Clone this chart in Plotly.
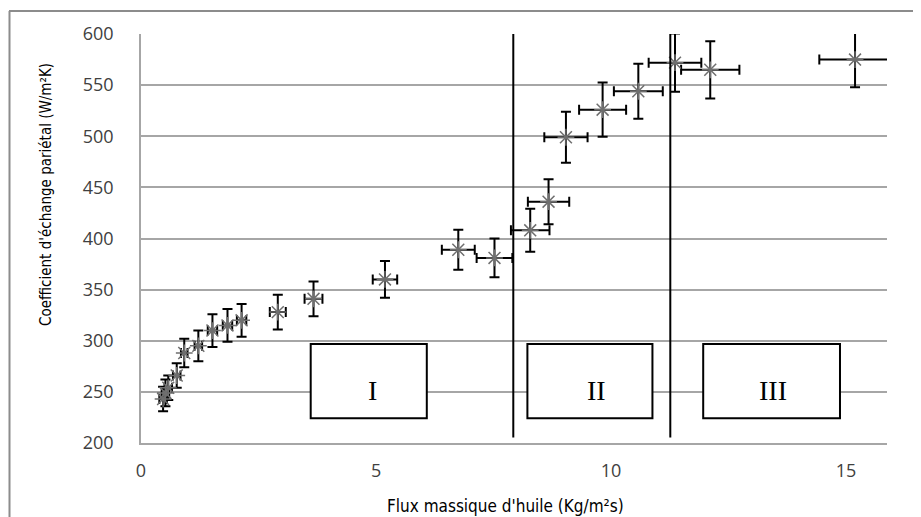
import plotly.graph_objects as go

# Data
flux = [0.47, 0.52, 0.58, 0.76, 0.92, 1.22, 1.52, 1.84, 2.14, 2.91, 3.67, 5.19,
        6.75, 7.52, 8.28, 8.67, 9.04, 9.82, 10.58, 11.36, 12.11, 15.19]
coef = [243, 249, 254, 266, 288, 295, 310, 315, 320, 328, 341, 360,
        389, 381, 408, 436, 499, 526, 544, 572, 565, 575]
err_flux = [0.08, 0.08, 0.08, 0.08, 0.07, 0.08, 0.10, 0.10, 0.10, 0.17, 0.19, 0.26,
            0.35, 0.38, 0.41, 0.44, 0.46, 0.50, 0.52, 0.56, 0.62, 0.76]
err_coef = [12, 13, 12, 12, 14, 15, 16, 16, 16, 17, 17, 18,
            19.5, 19, 21, 22, 25, 26.5, 27, 28.5, 28, 27]

zone_limits = [7.92, 11.26]
zone_labels = ["I", "II", "III"]
zone_box_x = [(3.61, 6.08), (8.22, 10.88), (11.96, 14.87)]
zone_label_x = [4.93, 9.68, 13.45]
zone_box_y = (224.2, 296.8)

x_ticks = [0, 5, 10, 15]
y_ticks = [200, 250, 300, 350, 400, 450, 500, 550, 600]

OFF = 8  # page body margin in the browser
W, H = 921, 517
L, T = 141 - OFF, 34 - OFF
R = W - (887 - OFF)
B = H - (443 - OFF)
pw, ph = W - L - R, H - T - B

def px_to_paper_x(px):
    return (px - OFF - L) / pw

def px_to_paper_y(py):
    return (H - B - (py - OFF)) / ph

fig = go.Figure()
fig.add_trace(go.Scatter(
    x=flux, y=coef, mode="markers",
    marker=dict(symbol="asterisk-open", size=14, color="#6e6e6e",
                line=dict(color="#6e6e6e", width=1.5)),
    error_x=dict(type="data", array=err_flux, color="black", thickness=2, width=5),
    error_y=dict(type="data", array=err_coef, color="black", thickness=2, width=5),
    showlegend=False, hoverinfo="x+y",
))

shapes = []
for xl in zone_limits:
    shapes.append(dict(type="line", xref="x", yref="y", x0=xl, x1=xl, y0=205.5, y1=603,
                       line=dict(color="black", width=2)))
for (x0, x1) in zone_box_x:
    shapes.append(dict(type="rect", xref="x", yref="y", x0=x0, x1=x1,
                       y0=zone_box_y[0], y1=zone_box_y[1],
                       line=dict(color="black", width=2), fillcolor="white"))
# outer chart border (top and left)
shapes.append(dict(type="line", xref="paper", yref="paper",
                   x0=px_to_paper_x(9), x1=px_to_paper_x(W + 20),
                   y0=px_to_paper_y(11), y1=px_to_paper_y(11),
                   line=dict(color="#8c8c8c", width=2)))
shapes.append(dict(type="line", xref="paper", yref="paper",
                   x0=px_to_paper_x(9.5), x1=px_to_paper_x(9.5),
                   y0=px_to_paper_y(11), y1=px_to_paper_y(H + 20),
                   line=dict(color="#8c8c8c", width=2)))

annotations = []
for lab, lx in zip(zone_labels, zone_label_x):
    annotations.append(dict(x=lx, y=251, xref="x", yref="y", text=lab, showarrow=False,
                            font=dict(family="Liberation Serif", size=28, color="black")))
annotations.append(dict(x=px_to_paper_x(46), y=px_to_paper_y(195), xref="paper", yref="paper",
                        xanchor="center", yanchor="middle",
                        text="Coefficient d'échange pariétal (W/m²K)", textangle=-90,
                        showarrow=False,
                        font=dict(family="Liberation Sans Narrow, DejaVu Sans Condensed, Open Sans",
                                  size=15, color="black")))
annotations.append(dict(x=px_to_paper_x(505), y=px_to_paper_y(506), xref="paper", yref="paper",
                        xanchor="center", yanchor="middle",
                        text="Flux massique d'huile (Kg/m²s)",
                        showarrow=False,
                        font=dict(family="Liberation Sans Narrow, DejaVu Sans Condensed, Open Sans",
                                  size=17, color="black")))

tick_font = dict(family="Open Sans", size=18, color="#404040")
fig.update_layout(
    width=W, height=H,
    margin=dict(l=L, r=R, t=T, b=B),
    paper_bgcolor="white", plot_bgcolor="white",
    shapes=shapes, annotations=annotations,
    xaxis=dict(range=[0, 15.87], tickvals=x_ticks, showgrid=False, zeroline=False,
               showline=True, linecolor="#a6a6a6", linewidth=1.5, ticks="",
               tickfont=tick_font, ticklabelstandoff=11),
    yaxis=dict(range=[200, 600], tickvals=y_ticks, showgrid=True, gridcolor="#a6a6a6",
               gridwidth=1.5, zeroline=False, showline=True, linecolor="#a6a6a6",
               linewidth=1.5, ticks="", tickfont=tick_font, ticklabelstandoff=22),
)

fig.write_html("out.html")
